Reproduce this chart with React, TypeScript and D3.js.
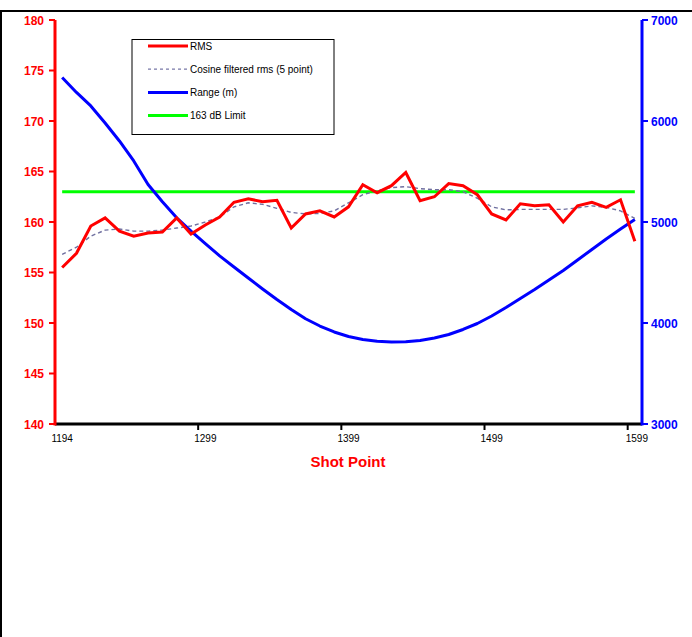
import React from "react";
import * as d3 from "d3";

const categories: string[] = Array.from({ length: 41 }, (_, i) => String(i));
const xTickIndex = [0, 10, 20, 30, 40];
const xTickLabels = ["1194", "1299", "1399", "1499", "1599"];

const rms = [
  155.5, 156.9, 159.6, 160.4, 159.1, 158.6, 158.9, 159.0, 160.4, 158.8,
  159.7, 160.5, 161.95, 162.3, 162.0, 162.15, 159.4, 160.8, 161.1, 160.5,
  161.5, 163.7, 162.9, 163.6, 164.9, 162.1, 162.5, 163.8, 163.6, 162.7,
  160.8, 160.2, 161.8, 161.6, 161.7, 160.0, 161.6, 161.95, 161.45, 162.2,
  158.1,
];
const cosineRms = [
  156.8, 157.5, 158.6, 159.2, 159.3, 159.1, 159.1, 159.2, 159.4, 159.6,
  160.0, 160.5, 161.5, 161.9, 161.75, 161.35, 160.95, 160.8, 160.85, 161.1,
  161.9, 162.7, 163.1, 163.4, 163.5, 163.3, 163.2, 163.2, 163.0, 162.35,
  161.5, 161.2, 161.25, 161.25, 161.25, 161.25, 161.4, 161.6, 161.45, 161.1,
  160.35,
];
const rangeM = [
  6431, 6283, 6149, 5980, 5802, 5604, 5371, 5201, 5041, 4910,
  4786, 4665, 4555, 4445, 4337, 4233, 4134, 4042, 3970, 3911,
  3866, 3837, 3819, 3812, 3814, 3827, 3851, 3886, 3936, 3995,
  4069, 4153, 4243, 4332, 4426, 4520, 4624, 4728, 4832, 4930,
  5025,
];
const limit = categories.map(() => 163);

const leftTicks = [140, 145, 150, 155, 160, 165, 170, 175, 180];
const rightTicks = [3000, 4000, 5000, 6000, 7000];

const legendItems = [
  { label: "RMS", color: "#ff0000", width: 3, dash: "" },
  { label: "Cosine filtered rms (5 point)", color: "#7878a8", width: 1.2, dash: "3,3" },
  { label: "Range (m)", color: "#0000ff", width: 3, dash: "" },
  { label: "163 dB Limit", color: "#00ff00", width: 3, dash: "" },
];

export default function App() {
  const W = 692;
  const H = 637;
  const left = 55;
  const right = 642;
  const top = 20;
  const bottom = 424;

  const xBand = d3.scaleBand<string>().domain(categories).range([left, right]).padding(0);
  const xc = (i: number) => (xBand(categories[i]) as number) + xBand.bandwidth() / 2;
  const yL = d3.scaleLinear().domain([140, 180]).range([bottom, top]);
  const yR = d3.scaleLinear().domain([3000, 7000]).range([bottom, top]);

  const lineL = d3
    .line<number>()
    .x((_, i) => xc(i))
    .y((d) => yL(d));
  const lineR = d3
    .line<number>()
    .x((_, i) => xc(i))
    .y((d) => yR(d));

  const font = "'Liberation Sans', Arial, sans-serif";

  return (
    <svg
      width={W}
      height={H}
      style={{ position: "absolute", left: 0, top: 0, display: "block", background: "#ffffff" }}
      fontFamily={font}
    >
      {/* page frame */}
      <line x1={0} x2={W} y1={11} y2={11} stroke="#000" strokeWidth={2} />
      <line x1={1} x2={1} y1={10} y2={H} stroke="#000" strokeWidth={2} />

      {/* series */}
      <path d={lineL(limit) || ""} fill="none" stroke="#00ff00" strokeWidth={3} />
      <path d={lineR(rangeM) || ""} fill="none" stroke="#0000ff" strokeWidth={3} strokeLinejoin="round" />
      <path d={lineL(cosineRms) || ""} fill="none" stroke="#7070a0" strokeWidth={1.4} strokeDasharray="4,3" />
      <path d={lineL(rms) || ""} fill="none" stroke="#ff0000" strokeWidth={3} strokeLinejoin="miter" />

      {/* x axis */}
      <line x1={left} x2={right} y1={bottom} y2={bottom} stroke="#000" strokeWidth={3} />
      {xTickIndex.map((ti, k) => {
        const tx = xBand(categories[ti]) as number;
        return (
          <g key={"xt" + k}>
            {ti > 0 && <line x1={tx} x2={tx} y1={bottom} y2={bottom + 6} stroke="#000" strokeWidth={2} />}
            <text x={xc(ti) + (k === 4 ? 2 : 0)} y={bottom + 18} fontSize={10} textAnchor="middle" fill="#000">
              {xTickLabels[k]}
            </text>
          </g>
        );
      })}
      <text x={348} y={467} fontSize={15} fontWeight="bold" fill="#ff0000" textAnchor="middle">
        Shot Point
      </text>

      {/* left axis */}
      <line x1={left} x2={left} y1={top} y2={bottom + 1.5} stroke="#ff0000" strokeWidth={3} />
      {leftTicks.map((t) => (
        <g key={"l" + t}>
          <line x1={left - 6} x2={left} y1={yL(t)} y2={yL(t)} stroke="#ff0000" strokeWidth={2} />
          <text x={44} y={yL(t) + 4.5} fontSize={12} fontWeight="bold" fill="#ff0000" textAnchor="end">
            {t}
          </text>
        </g>
      ))}

      {/* right axis */}
      <line x1={right} x2={right} y1={top} y2={bottom + 1.5} stroke="#0000ff" strokeWidth={3} />
      {rightTicks.map((t) => (
        <g key={"r" + t}>
          <line x1={right} x2={right + 6} y1={yR(t)} y2={yR(t)} stroke="#0000ff" strokeWidth={2} />
          <text x={651} y={yR(t) + 4.5} fontSize={12} fontWeight="bold" fill="#0000ff" textAnchor="start">
            {t}
          </text>
        </g>
      ))}

      {/* legend */}
      <rect x={132} y={39.5} width={202} height={95} fill="#ffffff" stroke="#000" strokeWidth={1} />
      {legendItems.map((it, k) => {
        const ly = 46 + k * 23.2;
        return (
          <g key={"lg" + k}>
            <line x1={148} x2={188} y1={ly} y2={ly} stroke={it.color} strokeWidth={it.width} strokeDasharray={it.dash || undefined} />
            <text x={190} y={ly + 3.5} fontSize={10} fill="#000">
              {it.label}
            </text>
          </g>
        );
      })}
    </svg>
  );
}
